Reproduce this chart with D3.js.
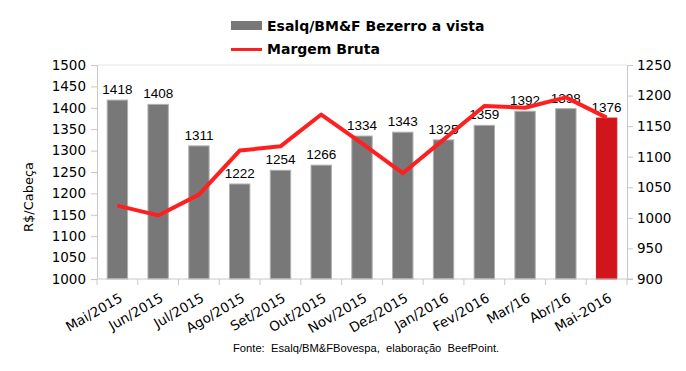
<!DOCTYPE html>
<html>
<head>
<meta charset="utf-8">
<script src="https://cdn.jsdelivr.net/npm/d3@7"></script>
<style>
  body { margin: 0; background: #fff; }
  svg { display: block; }
</style>
</head>
<body>
<div id="chart"></div>
<script>
// chart data
const months = ["Mai/2015", "Jun/2015", "Jul/2015", "Ago/2015", "Set/2015", "Out/2015", "Nov/2015",
                "Dez/2015", "Jan/2016", "Fev/2016", "Mar/16", "Abr/16", "Mai-2016"];
const bezerro = [1418, 1408, 1311, 1222, 1254, 1266, 1334, 1343, 1325, 1359, 1392, 1398, 1376];
const margem = [1020, 1004, 1038, 1110, 1117, 1169, 1122, 1073, 1128, 1183, 1180, 1197, 1164];
const leftTicks = [1000, 1050, 1100, 1150, 1200, 1250, 1300, 1350, 1400, 1450, 1500];
const rightTicks = [900, 950, 1000, 1050, 1100, 1150, 1200, 1250];

const width = 686;
const height = 371;
const margin = {top: 65, right: 59, bottom: 92, left: 97};

const svg = d3.select("#chart")
.append("svg")
.attr("width", width)
.attr("height", height);

const x = d3.scaleBand()
.domain(months)
.range([margin.left, width - margin.right])
.paddingInner(0.5)
.paddingOuter(0.25);

const yLeft = d3.scaleLinear()
.domain([1000, 1500])
.range([height - margin.bottom, margin.top]);

const yRight = d3.scaleLinear()
.domain([900, 1250])
.range([height - margin.bottom, margin.top]);

const axisColor = "#c8c8c8";
const plotTop = margin.top, plotBottom = height - margin.bottom;
const plotLeft = margin.left, plotRight = width - margin.right;

// light frame line on top
svg.append("line")
.attr("x1", plotLeft).attr("x2", plotRight)
.attr("y1", plotTop).attr("y2", plotTop)
.attr("stroke", "#e4e4e4");

// bars
svg.append("g")
.selectAll("rect")
.data(months)
.enter()
.append("rect")
.attr("x", d => x(d))
.attr("y", (d, i) => yLeft(bezerro[i]))
.attr("width", x.bandwidth())
.attr("height", (d, i) => plotBottom - yLeft(bezerro[i]))
.attr("fill", (d, i) => i === months.length - 1 ? "#d0151b" : "#787878")
.attr("stroke", (d, i) => i === months.length - 1 ? "#d0151b" : "#b0b0b0")
.attr("stroke-width", 1);

// bar value labels
svg.append("g")
.selectAll("text")
.data(months)
.enter()
.append("text")
.attr("x", d => x(d) + x.bandwidth() / 2)
.attr("y", (d, i) => yLeft(bezerro[i]) - 6)
.attr("text-anchor", "middle")
.attr("font-family", "Liberation Sans, Arial, sans-serif")
.attr("font-size", 13.5)
.attr("fill", "#000")
.text((d, i) => bezerro[i]);

// margem bruta line
const line = d3.line()
.x((d, i) => x(months[i]) + x.bandwidth() / 2)
.y(d => yRight(d));

svg.append("path")
.datum(margem)
.attr("d", line)
.attr("fill", "none")
.attr("stroke", "#fc2020")
.attr("stroke-width", 4)
.attr("stroke-linejoin", "round");

// left axis
const leftAxis = d3.axisLeft(yLeft).tickValues(leftTicks).tickFormat(d3.format("d"))
.tickSize(6).tickPadding(5);
const gl = svg.append("g")
.attr("transform", `translate(${plotLeft},0)`)
.call(leftAxis);

// right axis
const rightAxis = d3.axisRight(yRight).tickValues(rightTicks).tickFormat(d3.format("d"))
.tickSize(6).tickPadding(4);
const gr = svg.append("g")
.attr("transform", `translate(${plotRight},0)`)
.call(rightAxis);

// bottom axis, ticks between the bands
const gb = svg.append("g")
.attr("transform", `translate(0,${plotBottom})`);

gb.append("line")
.attr("x1", plotLeft).attr("x2", plotRight + 6)
.attr("stroke", axisColor);

const step = x.step();
gb.selectAll("line.tick")
.data(d3.range(months.length + 1))
.enter()
.append("line")
.attr("class", "tick")
.attr("x1", i => plotLeft + i * step)
.attr("x2", i => plotLeft + i * step)
.attr("y1", 0)
.attr("y2", 6)
.attr("stroke", axisColor);

gb.selectAll("text")
.data(months)
.enter()
.append("text")
.attr("transform", d => `translate(${x(d) + x.bandwidth() / 2 + 1},${13}) rotate(-30)`)
.attr("text-anchor", "end")
.attr("dy", "0.75em")
.attr("font-family", "DejaVu Sans, Verdana, sans-serif")
.attr("font-size", 13.5)
.attr("fill", "#000")
.text(d => d);

[gl, gr].forEach(g => {
    g.select(".domain").attr("stroke", axisColor);
    g.selectAll(".tick line").attr("stroke", axisColor);
    g.selectAll(".tick text")
    .attr("font-family", "DejaVu Sans, Verdana, sans-serif")
    .attr("font-size", 13.5)
    .attr("fill", "#000");
});

// y axis title
svg.append("text")
.attr("transform", "translate(33,197) rotate(-90)")
.attr("text-anchor", "middle")
.attr("font-family", "DejaVu Sans, Verdana, sans-serif")
.attr("font-size", 13)
.attr("fill", "#000")
.text("R$/Cabeça");

// legend
const legend = svg.append("g");

legend.append("rect")
.attr("x", 231).attr("y", 21)
.attr("width", 31).attr("height", 9)
.attr("fill", "#787878");

legend.append("line")
.attr("x1", 231).attr("x2", 262)
.attr("y1", 49.5).attr("y2", 49.5)
.attr("stroke", "#fc2020")
.attr("stroke-width", 3);

legend.selectAll("text")
.data(["Esalq/BM&F Bezerro a vista", "Margem Bruta"])
.enter()
.append("text")
.attr("x", 267)
.attr("y", (d, i) => 31 + i * 23)
.attr("font-family", "DejaVu Sans, Verdana, sans-serif")
.attr("font-weight", "bold")
.attr("font-size", 14)
.attr("fill", "#000")
.text(d => d);

// source note
svg.append("text")
.attr("x", 233)
.attr("y", 352)
.attr("font-family", "Liberation Sans, Arial, sans-serif")
.attr("font-size", 11.2)
.attr("fill", "#000")
.style("white-space", "pre")
.text("Fonte:  Esalq/BM&FBovespa,  elaboração  BeefPoint.");
</script>
</body>
</html>
